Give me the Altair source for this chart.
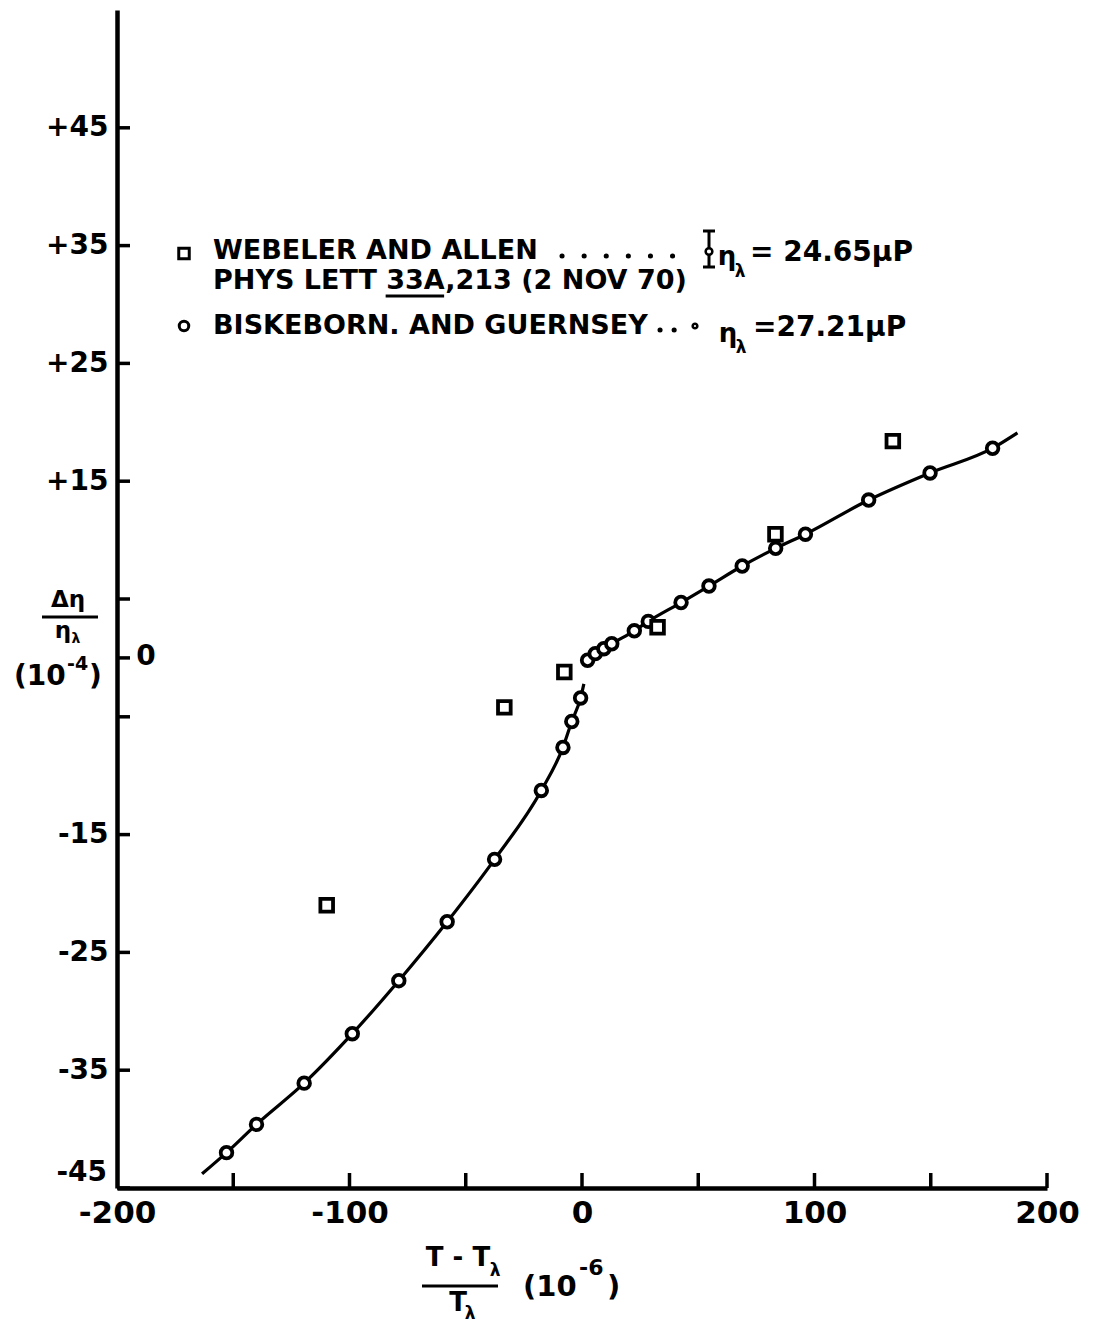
import altair as alt
import pandas as pd

# ---------------- data ----------------
# Biskeborn and Guernsey (open circles)
bg_x = [-152.9, -140.0, -119.5, -98.8, -78.8, -58.0, -37.6, -17.5, -8.2, -4.4, -0.6,
        2.4, 5.7, 9.4, 12.8, 22.5, 28.5, 42.6, 54.6, 68.9, 83.3, 96.1, 123.3, 149.7, 176.6]
bg_y = [-42.0, -39.6, -36.1, -31.9, -27.4, -22.4, -17.1, -11.25, -7.6, -5.4, -3.4,
        -0.2, 0.36, 0.78, 1.2, 2.3, 3.1, 4.7, 6.1, 7.8, 9.3, 10.5, 13.4, 15.7, 17.8]

# Webeler and Allen (open squares)
wa_x = [-109.8, -33.4, -7.6, 32.5, 83.2, 133.7]
wa_y = [-21.0, -4.2, -1.2, 2.6, 10.5, 18.4]

# drawn curve, below and above the lambda point
fit_lo_x = [-163.4, -152.9, -140.0, -119.5, -98.8, -78.8, -58.0, -37.6, -17.5, -8.2, -4.4, -0.6, 0.8]
fit_lo_y = [-43.8, -42.0, -39.6, -36.1, -31.9, -27.4, -22.4, -17.1, -11.25, -7.6, -5.4, -3.4, -2.2]
fit_hi_x = [2.4, 5.7, 9.4, 12.8, 22.5, 28.5, 42.6, 54.6, 68.9, 83.3, 96.1, 123.3, 149.7, 176.6, 187.3]
fit_hi_y = [-0.2, 0.36, 0.78, 1.2, 2.3, 3.1, 4.7, 6.1, 7.8, 9.3, 10.5, 13.4, 15.7, 17.8, 19.1]

x_label_vals = [-200, -100, 0, 100, 200]
x_tick_vals = [-150, -100, -50, 0, 50, 100, 150, 200]
y_label_vals = [45, 35, 25, 15, -15, -25, -35]
y_corner_label = "-45"
y_tick_vals = [45, 35, 25, 15, 5, 0, -5, -15, -25, -35, -45]

legend_wa = "WEBELER AND ALLEN"
legend_ref = "PHYS LETT 33A,213 (2 NOV 70)"
legend_bg = "BISKEBORN. AND GUERNSEY"
eta_wa = "= 24.65\u03bcP"
eta_bg = "=27.21\u03bcP"

# ---------------- layout ----------------
W, H = 930, 1178
OX, OY = 117, 10          # page position of the plot origin
FONT = "DejaVu Sans"
K = "black"

xs = alt.Scale(domain=[-200, 200], nice=False, zero=False)
ys = alt.Scale(domain=[-45, 55], nice=False, zero=False)

one = pd.DataFrame({"t": [""]})


def txt(s, X, Y, size, align="left", baseline="middle", weight="bold"):
    return alt.Chart(pd.DataFrame({"t": [s]})).mark_text(
        align=align, baseline=baseline, fontSize=size, fontWeight=weight,
        font=FONT, color=K
    ).encode(x=alt.value(X - OX), y=alt.value(Y - OY), text="t:N")


def seg(X1, Y1, X2, Y2, w=3.0, dash=None):
    kw = dict(strokeWidth=w, color=K)
    if dash:
        kw["strokeDash"] = dash
        kw["strokeCap"] = "round"
    return alt.Chart(one).mark_rule(**kw).encode(
        x=alt.value(X1 - OX), x2=alt.value(X2 - OX),
        y=alt.value(Y1 - OY), y2=alt.value(Y2 - OY))


def sym(X, Y, shape, size, w=3.0):
    return alt.Chart(one).mark_point(
        shape=shape, size=size, filled=False, fill="white", fillOpacity=1,
        stroke=K, strokeWidth=w, opacity=1
    ).encode(x=alt.value(X - OX), y=alt.value(Y - OY))


xaxis = alt.Axis(values=x_label_vals, labelExpr="'' + datum.value", title=None,
                 grid=False, ticks=False, domain=True, domainColor=K, domainWidth=4.5,
                 labelFont=FONT, labelFontSize=31, labelFontWeight="bold",
                 labelColor=K, labelPadding=10, labelFlush=False, labelOverlap=False)
yaxis = alt.Axis(values=y_label_vals,
                 labelExpr="(datum.value > 0 ? '+' : '') + datum.value", title=None,
                 grid=False, ticks=False, domain=True, domainColor=K, domainWidth=4.5,
                 labelFont=FONT, labelFontSize=28, labelFontWeight="bold",
                 labelColor=K, labelPadding=9, labelOverlap=False)

fit_df = pd.concat([
    pd.DataFrame({"x": fit_lo_x, "y": fit_lo_y, "branch": "below"}),
    pd.DataFrame({"x": fit_hi_x, "y": fit_hi_y, "branch": "above"}),
])

X_ENC = dict(scale=xs, axis=xaxis)
Y_ENC = dict(scale=ys, axis=yaxis)

curve = alt.Chart(fit_df).mark_line(
    color=K, strokeWidth=3.2, interpolate="monotone"
).encode(
    x=alt.X("x:Q", **X_ENC),
    y=alt.Y("y:Q", **Y_ENC),
    detail="branch:N",
)

circles = alt.Chart(pd.DataFrame({"x": bg_x, "y": bg_y})).mark_point(
    shape="circle", size=135, filled=False, fill="white", fillOpacity=1,
    stroke=K, strokeWidth=3.8, opacity=1
).encode(x=alt.X("x:Q", **X_ENC), y=alt.Y("y:Q", **Y_ENC))

squares = alt.Chart(pd.DataFrame({"x": wa_x, "y": wa_y})).mark_point(
    shape="square", size=160, filled=False, fill="white", fillOpacity=1,
    stroke=K, strokeWidth=3.8, opacity=1
).encode(x=alt.X("x:Q", **X_ENC), y=alt.Y("y:Q", **Y_ENC))

yticks = alt.Chart(pd.DataFrame({"y": y_tick_vals})).mark_rule(color=K, strokeWidth=3.5).encode(
    y=alt.Y("y:Q", **Y_ENC), x=alt.value(0), x2=alt.value(13))
xticks = alt.Chart(pd.DataFrame({"x": x_tick_vals})).mark_rule(color=K, strokeWidth=3.5).encode(
    x=alt.X("x:Q", **X_ENC), y=alt.value(H), y2=alt.value(H - 15))

LF = 27
u0 = 213 + 6.394 * LF
u1 = u0 + 2.166 * LF

annot = [
    # legend, line 1
    sym(184, 253.5, "square", 110, 3),
    txt(legend_wa, 213, 251, LF),
    seg(562, 256, 694, 256, 5, [0.1, 22]),
    seg(709, 231, 709, 267, 3),
    seg(703, 231, 715, 231, 3),
    seg(703, 267, 715, 267, 3),
    sym(709, 251.5, "circle", 45, 2.5),
    txt("\u03b7", 727, 257, 26, align="center"),
    txt("\u03bb", 740, 272, 17, align="center"),
    txt(eta_wa, 750, 253, LF + 1),
    # legend, line 2
    txt(legend_ref, 213, 281, LF),
    seg(u0, 296, u1, 296, 3),
    # legend, line 3
    sym(184, 326, "circle", 90, 3),
    txt(legend_bg, 213, 326, LF),
    seg(660, 330, 680, 330, 5, [0.1, 14]),
    sym(695, 326, "circle", 22, 2.5),
    txt("\u03b7", 728, 334, 26, align="center"),
    txt("\u03bb", 741, 348, 17, align="center"),
    txt(eta_bg, 753, 328, LF + 1),
    # y axis title, the 0 label and the -45 corner label
    txt("\u0394\u03b7", 68, 600, 23, align="center"),
    seg(42, 617, 98, 617, 3),
    txt("\u03b7", 63, 631, 23, align="center"),
    txt("\u03bb", 76, 639, 14, align="center"),
    txt("(10", 14, 677, 28),
    txt("-4", 67, 664, 19),
    txt(")", 89, 677, 28),
    txt("0", 146, 657, 28, align="center"),
    txt(y_corner_label, 107, 1173, 28, align="right"),
    # x axis title
    txt("T - T", 458, 1258, 26, align="center"),
    txt("\u03bb", 495, 1271, 17, align="center"),
    seg(422, 1286, 498, 1286, 3),
    txt("T", 458, 1303, 26, align="center"),
    txt("\u03bb", 470, 1314, 17, align="center"),
    txt("(10", 523, 1287, 29),
    txt("-6", 579, 1268, 22),
    txt(")", 607, 1287, 29),
]

chart = alt.layer(curve, circles, squares, yticks, xticks, *annot).properties(
    width=W, height=H,
    background="white",
    autosize=alt.AutoSizeParams(type="none"),
    padding={"left": OX - 8, "top": OY - 8, "right": 40, "bottom": 143},
).configure_view(stroke=None)

chart.save("out.html", embed_options={"renderer": "svg", "actions": False})
